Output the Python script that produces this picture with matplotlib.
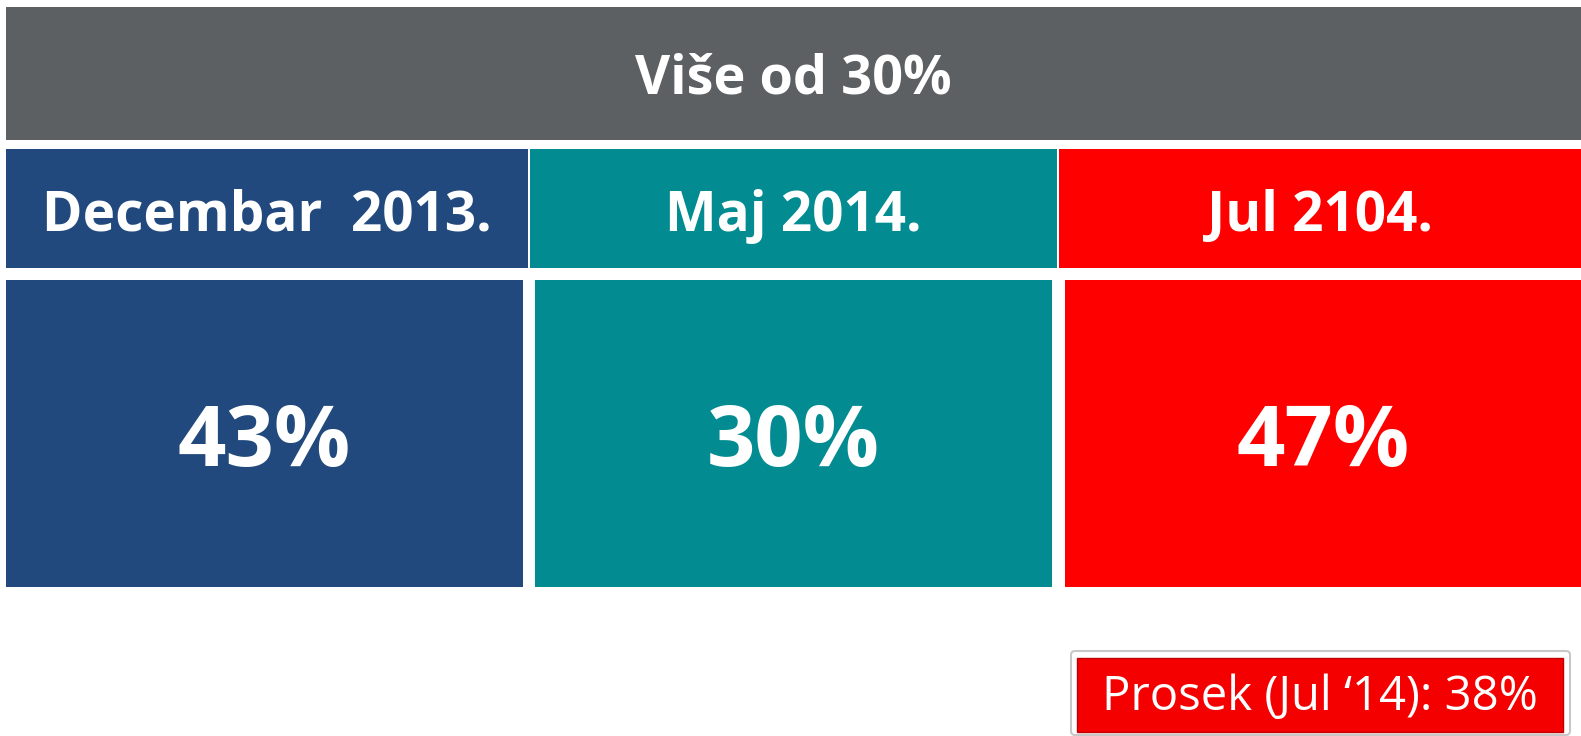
import matplotlib
matplotlib.use("Agg")
import matplotlib.pyplot as plt
from matplotlib.patches import Rectangle, FancyBboxPatch

plt.rcParams['font.family'] = ['Open Sans', 'DejaVu Sans']

# data
title = "Više od 30%"
periods = ["Decembar  2013.", "Maj 2014.", "Jul 2104."]
values = [43, 30, 47]
cell_colors = ["#21497d", "#028c91", "#ff0000"]
average_label = "Prosek (Jul \u201814): 38%"

W, H = 1581, 736
fig = plt.figure(figsize=(W / 100, H / 100), dpi=100)
ax = fig.add_axes([0, 0, 1, 1])
ax.set_xlim(0, W)
ax.set_ylim(H, 0)
ax.axis("off")

# header bar
ax.add_patch(Rectangle((6, 7), W - 6, 133, color="#5d6063", lw=0))
ax.text((6 + W) / 2, 79, title, color="white", fontsize=39, fontweight="bold",
        ha="center", va="center")

# period row and value row
head_x = [(6, 528), (530, 1057), (1059, W)]
val_x = [(6, 523), (535, 1052), (1065, W)]
for i, (period, v, c) in enumerate(zip(periods, values, cell_colors)):
    x0, x1 = head_x[i]
    ax.add_patch(Rectangle((x0, 149), x1 - x0, 119, color=c, lw=0))
    ax.text((x0 + x1) / 2, 216, period, color="white", fontsize=39.5,
            fontweight="bold", ha="center", va="center")
    x0, x1 = val_x[i]
    ax.add_patch(Rectangle((x0, 280), x1 - x0, 307, color=c, lw=0))
    ax.text((x0 + x1) / 2, 444, f"{v}%", color="white", fontsize=61,
            fontweight="bold", ha="center", va="center")

# average box
ax.add_patch(FancyBboxPatch((1071, 651), 499, 84,
                            boxstyle="round,pad=0,rounding_size=4",
                            fc="white", ec="#c8c8c8", lw=1.5))
ax.add_patch(Rectangle((1077, 658), 486, 74, fc="#f40000", ec="#c00000", lw=1))
ax.text(1320, 697, average_label, color="white", fontsize=34,
        ha="center", va="center")

fig.savefig("out.png", dpi=100)
